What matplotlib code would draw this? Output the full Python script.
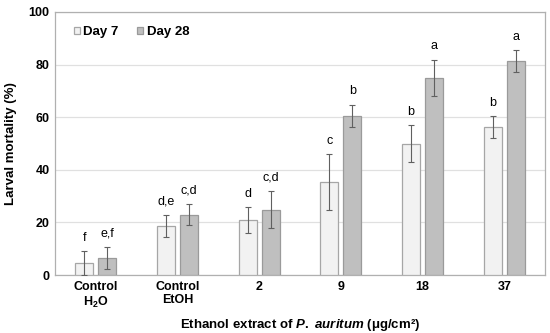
import numpy as np
import matplotlib.pyplot as plt

plt.rcParams['font.family'] = 'Liberation Sans'
plt.rcParams['mathtext.fontset'] = 'custom'
plt.rcParams['mathtext.rm'] = 'Liberation Sans:bold'
plt.rcParams['mathtext.it'] = 'Liberation Sans:italic:bold'

categories = ['Control\nH$_2$O', 'Control\nEtOH', '2', '9', '18', '37']
day7 = [4.5, 18.7, 20.8, 35.4, 49.9, 56.3]
day7_err = [4.5, 4.3, 5.0, 10.5, 7.0, 4.2]
day28 = [6.4, 23.0, 24.9, 60.4, 74.9, 81.3]
day28_err = [4.2, 4.0, 7.0, 4.3, 7.0, 4.2]
day7_letters = ['f', 'd,e', 'd', 'c', 'b', 'b']
day28_letters = ['e,f', 'c,d', 'c,d', 'b', 'a', 'a']

x = np.arange(len(categories))
w = 0.22
off = 0.14

fig = plt.figure(figsize=(5.5, 3.33), dpi=100)
ax = fig.add_axes([0.1, 0.174, 0.891, 0.79])

ekw = dict(ecolor='#606060', elinewidth=0.8, capsize=2, capthick=0.8)
ax.bar(x - off, day7, w, yerr=day7_err, color='#f2f2f2', edgecolor='#a6a6a6',
       linewidth=0.9, label='Day 7', error_kw=ekw, zorder=3)
ax.bar(x + off, day28, w, yerr=day28_err, color='#bfbfbf', edgecolor='#9a9a9a',
       linewidth=0.9, label='Day 28', error_kw=ekw, zorder=3)

for i in range(len(x)):
    ax.text(x[i] - off, day7[i] + day7_err[i] + 2.8, day7_letters[i],
            ha='center', va='bottom', fontsize=9)
    ax.text(x[i] + off, day28[i] + day28_err[i] + 2.8, day28_letters[i],
            ha='center', va='bottom', fontsize=9)

ax.set_ylim(0, 100)
ax.set_xlim(-0.5, len(x) - 0.5)
ax.set_yticks([0, 20, 40, 60, 80, 100])
ax.set_xticks(x)
ax.set_xticklabels(categories, fontweight='bold', fontsize=9)
for lab in ax.get_yticklabels():
    lab.set_fontweight('bold')
    lab.set_fontsize(9)
ax.tick_params(length=0, pad=4)
ax.yaxis.grid(True, color='#e0e0e0', linewidth=0.9, zorder=0)
ax.set_axisbelow(True)
for s in ax.spines.values():
    s.set_color('#b0b0b0')
    s.set_linewidth(0.9)

ax.set_ylabel('Larval mortality (%)', fontweight='bold', fontsize=9.5, labelpad=8)
ax.set_xlabel('Ethanol extract of $\\mathit{P.\\ auritum}$ (\u03bcg/cm\u00b2)',
              fontweight='bold', fontsize=9.5, labelpad=5)

ax.legend(loc='upper left', ncol=2, frameon=False,
          prop={'weight': 'bold', 'size': 9.5}, handlelength=0.45,
          handleheight=0.45, handletextpad=0.25, columnspacing=1.4,
          bbox_to_anchor=(0.015, 0.99))

fig.savefig('out.png', dpi=100)
